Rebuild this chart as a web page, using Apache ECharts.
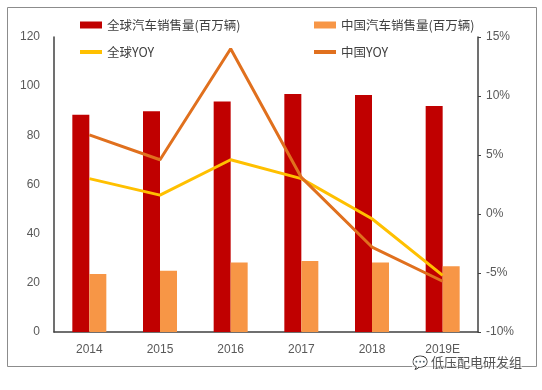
<!DOCTYPE html>
<html><head><meta charset="utf-8">
<script src="https://cdn.jsdelivr.net/npm/echarts@6/dist/echarts.min.js"></script>
<style>html,body{margin:0;padding:0;background:#fff}#c{width:542px;height:390px}</style>
</head><body><div id="c"></div>
<script>
const categories = ['2014','2015','2016','2017','2018','2019E'];
const globalSales = [88.4, 89.8, 93.8, 96.8, 96.4, 91.9];
const chinaSales = [23.6, 24.9, 28.3, 28.9, 28.3, 26.7];
const globalYoy = [3.0, 1.6, 4.6, 3.0, -0.4, -5.2];
const chinaYoy = [6.7, 4.6, 14.0, 3.1, -2.8, -5.7];
const leftTicks = [0, 20, 40, 60, 80, 100, 120];
const rightTicks = [-10, -5, 0, 5, 10, 15];

const names = ['全球汽车销售量(百万辆)', '中国汽车销售量(百万辆)', '全球YOY', '中国YOY'];
const lineIcon = 'path://M0,0 L22,0 L22,4 L0,4 Z';
const font = '"Noto Sans CJK SC", sans-serif';
const chart = echarts.init(document.getElementById('c'));
chart.setOption({
  animation: false,
  backgroundColor: '#fff',
  grid: {left: 54, right: 64, top: 37, bottom: 58},
  legend: [
    {orient: 'vertical', left: 75, top: 12, itemWidth: 22, itemHeight: 7, itemGap: 11,
     textStyle: {fontFamily: font, fontSize: 12.5, color: '#404040', lineHeight: 16},
     data: [{name: names[0], icon: 'rect'}, {name: names[2], icon: lineIcon}]},
    {orient: 'vertical', left: 309, top: 12, itemWidth: 22, itemHeight: 7, itemGap: 11,
     textStyle: {fontFamily: font, fontSize: 12.5, color: '#404040', lineHeight: 16},
     data: [{name: names[1], icon: 'rect'}, {name: names[3], icon: lineIcon}]}
  ],
  xAxis: {
    type: 'category', data: categories,
    axisLine: {lineStyle: {color: '#404040', width: 1.5}},
    axisTick: {show: false},
    axisLabel: {color: '#595959', fontSize: 12, fontFamily: 'Arial, "Liberation Sans"', margin: 12}
  },
  yAxis: [
    {type: 'value', min: leftTicks[0], max: leftTicks[leftTicks.length-1], interval: 20,
     axisLine: {show: true, lineStyle: {color: '#404040', width: 1.5}},
     axisTick: {show: false}, splitLine: {show: false},
     axisLabel: {color: '#595959', fontSize: 12, fontFamily: 'Arial, "Liberation Sans"', margin: 14}},
    {type: 'value', min: rightTicks[0], max: rightTicks[rightTicks.length-1], interval: 5,
     axisLine: {show: true, lineStyle: {color: '#404040', width: 1.5}},
     axisTick: {show: true, length: 3, inside: false, lineStyle: {color: '#404040'}},
     splitLine: {show: false},
     axisLabel: {color: '#595959', fontSize: 12, fontFamily: 'Arial, "Liberation Sans"', margin: 8, formatter: '{value}%'}}
  ],
  series: [
    {name: names[0], type: 'bar', data: globalSales, barWidth: 17, barGap: '0%',
     itemStyle: {color: '#C00000'}},
    {name: names[1], type: 'bar', data: chinaSales, barWidth: 17, barGap: '0%',
     itemStyle: {color: '#F79646'}},
    {name: names[2], type: 'line', yAxisIndex: 1, data: globalYoy, symbol: 'none',
     lineStyle: {color: '#FFC000', width: 3}, itemStyle: {color: '#FFC000'}},
    {name: names[3], type: 'line', yAxisIndex: 1, data: chinaYoy, symbol: 'none',
     lineStyle: {color: '#E0701E', width: 3}, itemStyle: {color: '#E0701E'}}
  ],
  graphic: [
    {type: 'rect', left: 5, top: 5, shape: {width: 529, height: 359},
     style: {fill: 'none', stroke: '#8c8c8c', lineWidth: 1}, silent: true},
    {type: 'text', left: 412, top: 356, z: 10,
     style: {text: '💬 低压配电研发组', fill: '#555', font: '13px "Noto Sans CJK SC"',
             backgroundColor: 'rgba(255,255,255,0.6)'}}
  ]
});
</script></body></html>
